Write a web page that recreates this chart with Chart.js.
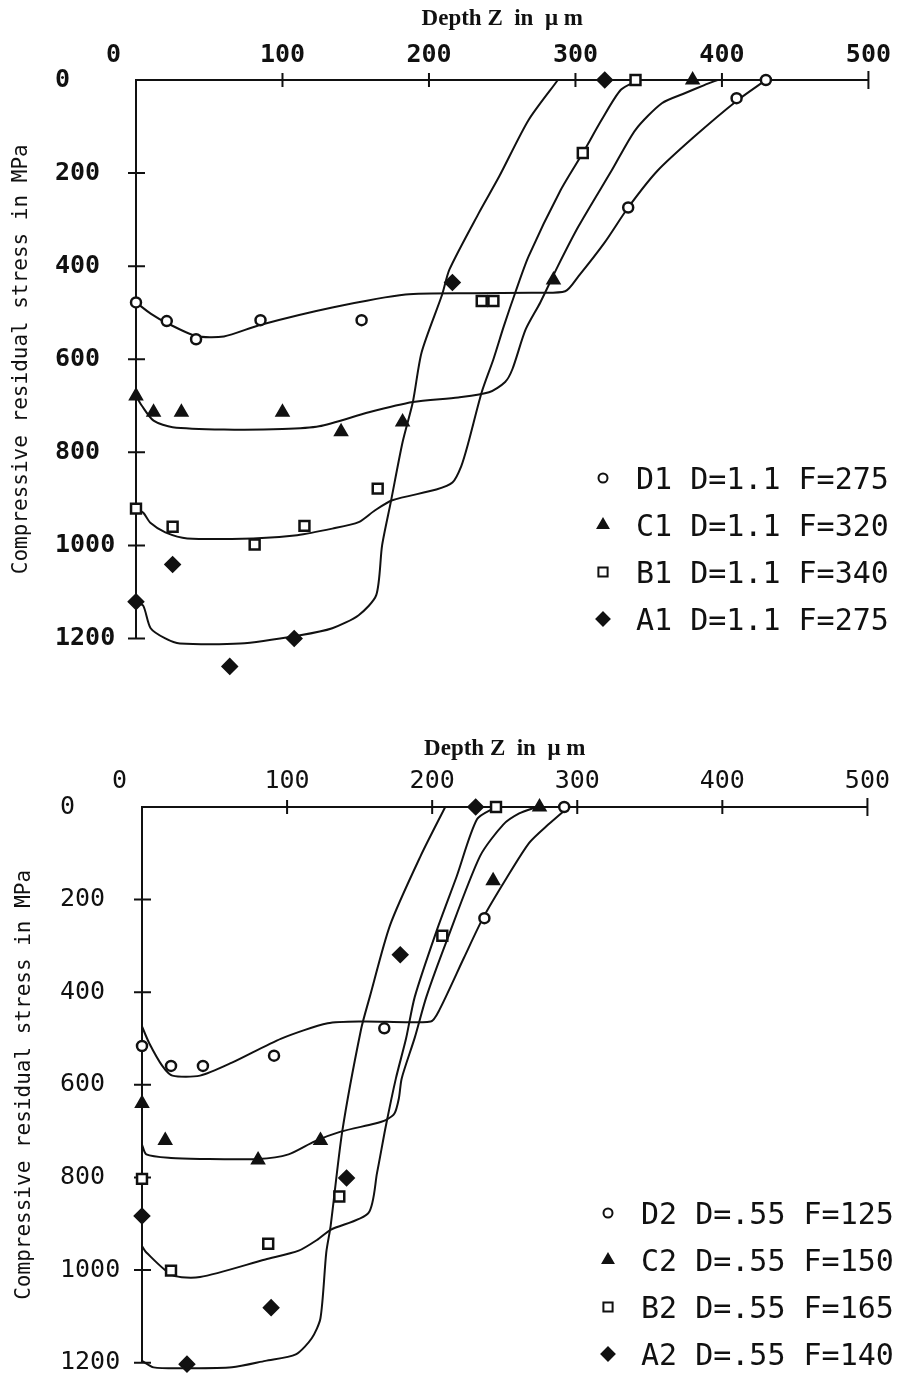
<!DOCTYPE html>
<html>
<head>
<meta charset="utf-8">
<script src="https://cdn.jsdelivr.net/npm/chart.js@4.4.0/dist/chart.umd.min.js"></script>
<style>
  html, body { margin: 0; padding: 0; background: #fff; }
  #wrap { position: relative; width: 901px; height: 1387px; }
  .panel { position: absolute; left: 0; width: 901px; }
  #top { top: 0; height: 700px; }
  #bottom { top: 700px; height: 687px; }
</style>
</head>
<body>
<div id="wrap">
  <div class="panel" id="top"><canvas id="chart-top" width="901" height="700"></canvas></div>
  <div class="panel" id="bottom"><canvas id="chart-bottom" width="901" height="687"></canvas></div>
</div>
<script>
const INK = "#111";

// axes
const depthTicks = [0, 100, 200, 300, 400, 500];
const stressTicks = [0, 200, 400, 600, 800, 1000, 1200];
const xTitle = "Depth Z  in  \u03bc m";
const yTitle = "Compressive residual stress in MPa";

// upper panel (D = 1.1) measured points
const d1Depth = [0, 21, 41, 85, 154, 336, 410, 430];
const d1Stress = [478, 518, 557, 516, 516, 274, 39, 0];
const c1Depth = [0, 12, 31, 100, 140, 182, 285, 380];
const c1Stress = [679, 714, 714, 714, 756, 735, 430, 0];
const b1Depth = [0, 25, 81, 115, 165, 236, 244, 305, 341];
const b1Stress = [921, 960, 998, 958, 878, 475, 475, 157, 0];
const a1Depth = [0, 25, 64, 108, 216, 320];
const a1Stress = [1121, 1041, 1260, 1200, 435, 0];

// upper panel fitted curves
const d1FitDepth = [0, 10, 21, 41, 60, 84, 134, 184, 230, 270, 293, 302, 320, 336, 356, 381, 410, 430];
const d1FitStress = [478, 502, 522, 550, 551, 527, 489, 461, 458, 457, 454, 422, 349, 274, 195, 122, 45, 0];
const c1FitDepth = [0, 4, 12, 25, 60, 100, 125, 159, 189, 220, 241, 252, 257, 266, 276, 288, 302, 325, 341, 359, 375, 388, 397];
const c1FitStress = [679, 700, 732, 746, 751, 750, 744, 714, 692, 682, 671, 649, 621, 536, 478, 400, 315, 193, 107, 50, 28, 11, 0];
const b1FitDepth = [0, 5, 10, 20, 35, 80, 110, 134, 152, 163, 175, 205, 216, 222, 227, 236, 244, 251, 259, 268, 290, 305, 318, 331, 343];
const b1FitStress = [921, 930, 952, 972, 985, 985, 978, 964, 950, 925, 903, 880, 865, 830, 778, 671, 600, 530, 456, 379, 236, 157, 85, 21, 0];
const a1FitDepth = [0, 5, 10, 20, 30, 71, 112, 134, 152, 164, 168, 174, 182, 189, 195, 209, 214, 234, 248, 268, 288];
const a1FitStress = [1121, 1130, 1178, 1200, 1211, 1211, 1193, 1178, 1150, 1107, 1000, 906, 778, 692, 585, 461, 407, 286, 207, 86, 0];

// lower panel (D = .55) measured points
const d2Depth = [0, 20, 42, 91, 167, 236, 291];
const d2Stress = [516, 559, 559, 537, 478, 240, 0];
const c2Depth = [0, 16, 80, 123, 242, 274];
const c2Stress = [640, 720, 762, 720, 159, 0];
const b2Depth = [0, 20, 87, 136, 207, 244];
const b2Stress = [803, 1001, 943, 841, 278, 0];
const a2Depth = [0, 31, 89, 141, 178, 230];
const a2Stress = [883, 1203, 1081, 801, 319, 0];

// lower panel fitted curves
const d2FitDepth = [0, 5, 14, 21, 40, 62, 96, 128, 153, 199, 205, 222, 235, 251, 267, 280, 294];
const d2FitStress = [474, 510, 559, 580, 580, 552, 500, 467, 463, 463, 438, 325, 240, 155, 77, 38, 0];
const c2FitDepth = [0, 3, 20, 40, 80, 101, 119, 137, 160, 168, 174, 177, 179, 188, 196, 210, 233, 249, 260, 272];
const c2FitStress = [729, 750, 758, 760, 760, 750, 722, 701, 684, 676, 662, 630, 586, 498, 410, 289, 106, 38, 14, 0];
const b2FitDepth = [0, 3, 21, 40, 85, 108, 121, 130, 156, 162, 168, 175, 182, 188, 203, 217, 231, 244];
const b2FitStress = [948, 962, 1011, 1015, 977, 958, 934, 913, 877, 790, 690, 586, 500, 410, 268, 149, 26, 0];
const a2FitDepth = [0, 8, 30, 62, 85, 106, 117, 123, 127, 130, 138, 151, 157, 171, 192, 209];
const a2FitStress = [1196, 1210, 1212, 1210, 1196, 1182, 1147, 1104, 962, 905, 701, 480, 410, 255, 106, 0];

// legends, order D, C, B, A
const topLegend = ["D1 D=1.1 F=275", "C1 D=1.1 F=320", "B1 D=1.1 F=340", "A1 D=1.1 F=275"];
const bottomLegend = ["D2 D=.55 F=125", "C2 D=.55 F=150", "B2 D=.55 F=165", "A2 D=.55 F=140"];
const markerStyles = ["circle", "triangle", "rect", "rectRot"];
const markerFilled = [false, true, false, true];
const markerRadius = [5, 6.5, 7, 7];

function pairs(xs, ys) {
  return xs.map((x, i) => ({ x: x, y: ys[i] }));
}

function drawMarker(ctx, style, filled, x, y, r) {
  ctx.beginPath();
  if (style === "circle") {
    ctx.arc(x, y, r, 0, Math.PI * 2);
  } else if (style === "triangle") {
    ctx.moveTo(x, y - r);
    ctx.lineTo(x + r * 0.87, y + r * 0.5);
    ctx.lineTo(x - r * 0.87, y + r * 0.5);
    ctx.closePath();
  } else if (style === "rect") {
    const s = r * Math.SQRT1_2;
    ctx.rect(x - s, y - s, 2 * s, 2 * s);
  } else {
    ctx.moveTo(x, y - r);
    ctx.lineTo(x + r, y);
    ctx.lineTo(x, y + r);
    ctx.lineTo(x - r, y);
    ctx.closePath();
  }
  ctx.fillStyle = filled ? INK : "#fff";
  ctx.fill();
  ctx.stroke();
}

const axisDecor = {
  id: "axisDecor",
  beforeDatasetsDraw(chart) {
    const { ctx, scales: { x, y } } = chart;
    const x0 = x.getPixelForValue(depthTicks[0]);
    const xEnd = x.getPixelForValue(depthTicks[depthTicks.length - 1]);
    const y0 = y.getPixelForValue(stressTicks[0]);
    const yEnd = y.getPixelForValue(stressTicks[stressTicks.length - 1]);
    ctx.save();
    ctx.strokeStyle = INK;
    ctx.lineWidth = 2;
    ctx.beginPath();
    ctx.moveTo(x0, y0);
    ctx.lineTo(xEnd, y0);
    ctx.moveTo(x0, y0 - 1);
    ctx.lineTo(x0, yEnd);
    depthTicks.slice(1).forEach((v, i, arr) => {
      const px = x.getPixelForValue(v);
      const h = i === arr.length - 1 ? 9 : 7;
      ctx.moveTo(px, y0 - h);
      ctx.lineTo(px, y0 + h);
    });
    stressTicks.slice(1).forEach(v => {
      const py = y.getPixelForValue(v);
      ctx.moveTo(x0 - 8, py);
      ctx.lineTo(x0 + 9, py);
    });
    ctx.stroke();
    ctx.restore();
  },
  afterDraw(chart, args, opts) {
    const { ctx, scales: { y } } = chart;
    const y0 = y.getPixelForValue(stressTicks[0]);
    const yEnd = y.getPixelForValue(stressTicks[stressTicks.length - 1]);

    // rotated y title
    ctx.save();
    ctx.translate(opts.titleX, (y0 + yEnd) / 2);
    ctx.rotate(-Math.PI / 2);
    ctx.font = '21px "DejaVu Sans Mono"';
    ctx.fillStyle = INK;
    ctx.textAlign = "center";
    ctx.textBaseline = "middle";
    ctx.fillText(yTitle, 0, 0);
    ctx.restore();

    // in-plot legend
    ctx.save();
    ctx.strokeStyle = INK;
    ctx.lineWidth = 2;
    ctx.font = opts.legendFont;
    ctx.textAlign = "left";
    ctx.textBaseline = "alphabetic";
    const mx = chart.chartArea.left + opts.legendDx;
    opts.items.forEach((label, i) => {
      const my = y0 + opts.legendDy + i * 47;
      drawMarker(ctx, markerStyles[i], markerFilled[i], mx, my, markerRadius[i] - 0.5);
      ctx.fillStyle = INK;
      ctx.fillText(label, mx + 33, my + 11);
    });
    ctx.restore();
  }
};

function buildChart(canvasId, series, cfg) {
  const datasets = [];
  series.forEach((s, i) => {
    datasets.push({
      label: s.name,
      data: pairs(s.depth, s.stress),
      showLine: false,
      pointStyle: markerStyles[i],
      pointRadius: markerRadius[i],
      pointBackgroundColor: markerFilled[i] ? INK : "#fff",
      pointBorderColor: INK,
      pointBorderWidth: 2.5,
      clip: false
    });
  });
  series.forEach(s => {
    datasets.push({
      label: s.name + " fit",
      data: pairs(s.fitDepth, s.fitStress),
      showLine: true,
      pointRadius: 0,
      borderColor: INK,
      borderWidth: 2,
      tension: 0.25,
      fill: false,
      clip: false
    });
  });

  return new Chart(document.getElementById(canvasId), {
    type: "scatter",
    data: { datasets: datasets },
    plugins: [axisDecor],
    options: {
      responsive: false,
      animation: false,
      events: [],
      layout: { padding: cfg.padding },
      plugins: {
        legend: { display: false },
        tooltip: { enabled: false },
        axisDecor: {
          titleX: cfg.titleX,
          items: cfg.legend,
          legendDx: cfg.legendDx,
          legendDy: cfg.legendDy,
          legendFont: '30px "DejaVu Sans Mono"'
        }
      },
      scales: {
        x: {
          type: "linear",
          position: "top",
          min: depthTicks[0],
          max: depthTicks[depthTicks.length - 1],
          afterBuildTicks: s => { s.ticks = depthTicks.map(v => ({ value: v })); },
          afterFit: s => { s.height = cfg.xBand; },
          grid: { display: false, drawTicks: false },
          border: { display: false },
          ticks: {
            color: INK,
            font: cfg.tickFont,
            padding: cfg.xTickPad,
            autoSkip: false,
            maxRotation: 0,
            callback: v => (v === 0 ? "0   " : String(v))
          },
          title: {
            display: true,
            text: xTitle,
            color: INK,
            font: { family: "Liberation Serif", size: 23, weight: "bold" },
            padding: { top: 5, bottom: 0 }
          }
        },
        y: {
          type: "linear",
          reverse: true,
          min: 0,
          max: cfg.yMax,
          afterBuildTicks: s => { s.ticks = stressTicks.map(v => ({ value: v })); },
          afterFit: s => { s.width = cfg.yBand; },
          grid: { display: false, drawTicks: false },
          border: { display: false },
          ticks: {
            color: INK,
            font: cfg.tickFont,
            crossAlign: "far",
            padding: 0,
            callback: v => String(v)
          }
        }
      }
    }
  });
}

buildChart("chart-top", [
  { name: "D1", depth: d1Depth, stress: d1Stress, fitDepth: d1FitDepth, fitStress: d1FitStress },
  { name: "C1", depth: c1Depth, stress: c1Stress, fitDepth: c1FitDepth, fitStress: c1FitStress },
  { name: "B1", depth: b1Depth, stress: b1Stress, fitDepth: b1FitDepth, fitStress: b1FitStress },
  { name: "A1", depth: a1Depth, stress: a1Stress, fitDepth: a1FitDepth, fitStress: a1FitStress }
], {
  padding: { left: 55, right: 30, top: 0, bottom: 13 },
  xBand: 80,
  yBand: 81,
  yMax: 1300,
  xTickPad: 10,
  tickFont: { family: "DejaVu Sans Mono", size: 25, weight: "bold" },
  titleX: 22,
  legend: topLegend,
  legendDx: 467,
  legendDy: 398
});

buildChart("chart-bottom", [
  { name: "D2", depth: d2Depth, stress: d2Stress, fitDepth: d2FitDepth, fitStress: d2FitStress },
  { name: "C2", depth: c2Depth, stress: c2Stress, fitDepth: c2FitDepth, fitStress: c2FitStress },
  { name: "B2", depth: b2Depth, stress: b2Stress, fitDepth: b2FitDepth, fitStress: b2FitStress },
  { name: "A2", depth: a2Depth, stress: a2Stress, fitDepth: a2FitDepth, fitStress: a2FitStress }
], {
  padding: { left: 60, right: 26, top: 30, bottom: 5.6 },
  xBand: 77,
  yBand: 82,
  yMax: 1220,
  xTickPad: 11,
  tickFont: { family: "DejaVu Sans Mono", size: 25 },
  titleX: 25,
  legend: bottomLegend,
  legendDx: 466,
  legendDy: 406
});
</script>
</body>
</html>
